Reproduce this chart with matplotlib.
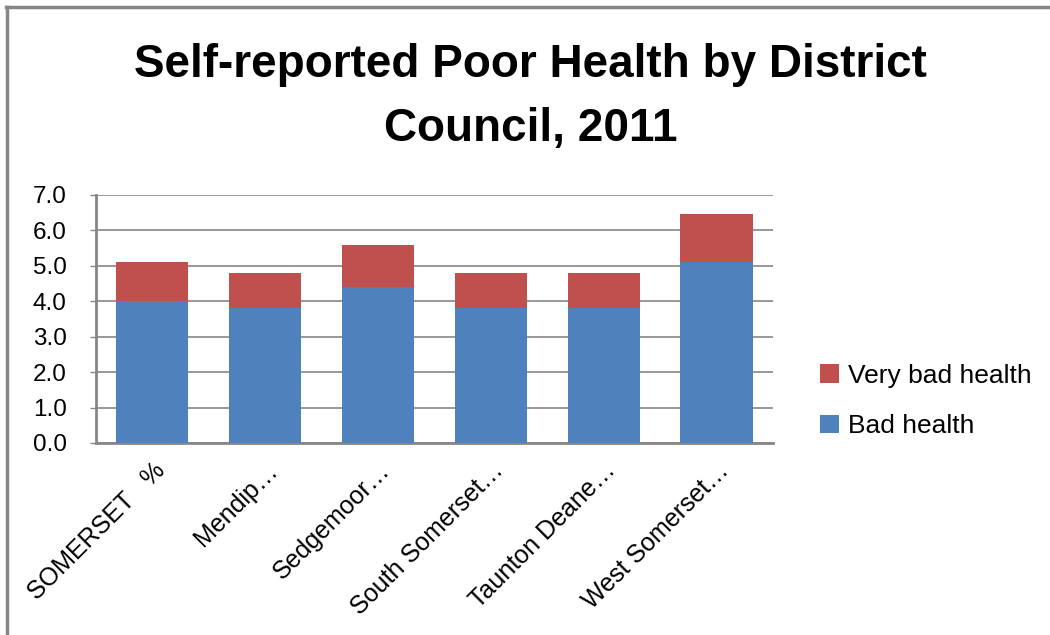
import numpy as np
import matplotlib.pyplot as plt
from matplotlib.lines import Line2D

districts = ['SOMERSET   %', 'Mendip\u2026', 'Sedgemoor\u2026', 'South Somerset\u2026',
             'Taunton Deane\u2026', 'West Somerset\u2026']
bad_health = [4.0, 3.8, 4.4, 3.8, 3.8, 5.1]
very_bad_health = [1.1, 1.0, 1.2, 1.0, 1.0, 1.35]
yticks = [0, 1, 2, 3, 4, 5, 6, 7]

plt.rcParams['font.family'] = ['Liberation Sans', 'DejaVu Sans']

fig = plt.figure(figsize=(10.5, 6.35), dpi=100)
ax = fig.add_axes([0.0914, 0.3024, 0.6448, 0.3906])

x = np.arange(len(districts))
ax.bar(x, bad_health, width=0.64, color='#4F81BD', label='Bad health', zorder=3)
ax.bar(x, very_bad_health, width=0.64, bottom=bad_health, color='#C0504D',
       label='Very bad health', zorder=3)

ax.set_xlim(-0.5, len(districts) - 0.5)
ax.set_ylim(0, 7)
ax.set_yticks(yticks)
ax.set_yticklabels(['{:.1f}'.format(v) for v in yticks], fontsize=17.5)
ax.set_xticks(x)
ax.set_xticklabels(districts, fontsize=18, rotation=45, ha='right',
                   rotation_mode='anchor')
ax.tick_params(axis='x', length=0, pad=11)
ax.tick_params(axis='y', length=4, width=1, color='#868686', pad=17)

ax.grid(axis='y', color='#868686', linewidth=1.2, zorder=0)
for s in ['top', 'right']:
    ax.spines[s].set_visible(False)
ax.spines['left'].set_color('#868686')
ax.spines['left'].set_linewidth(2)
ax.spines['bottom'].set_color('#868686')
ax.spines['bottom'].set_linewidth(2)

handles, labels = ax.get_legend_handles_labels()
ax.legend(handles[::-1], labels[::-1], loc='center left', bbox_to_anchor=(1.035, 0.17),
          frameon=False, fontsize=19, handlelength=0.7, handleheight=0.7,
          handletextpad=0.35, labelspacing=1.0)

fig.text(0.505, 0.847, 'Self-reported Poor Health by District\nCouncil, 2011',
         ha='center', va='center', fontsize=33, fontweight='bold', linespacing=1.58)

# chart border (top and left edges visible)
fig.add_artist(Line2D([0.006, 1.0], [0.989, 0.989], color='#868686', linewidth=2.5,
                      transform=fig.transFigure))
fig.add_artist(Line2D([0.007, 0.007], [0.0, 0.989], color='#868686', linewidth=2.5,
                      transform=fig.transFigure))

fig.savefig('out.png', dpi=100)
